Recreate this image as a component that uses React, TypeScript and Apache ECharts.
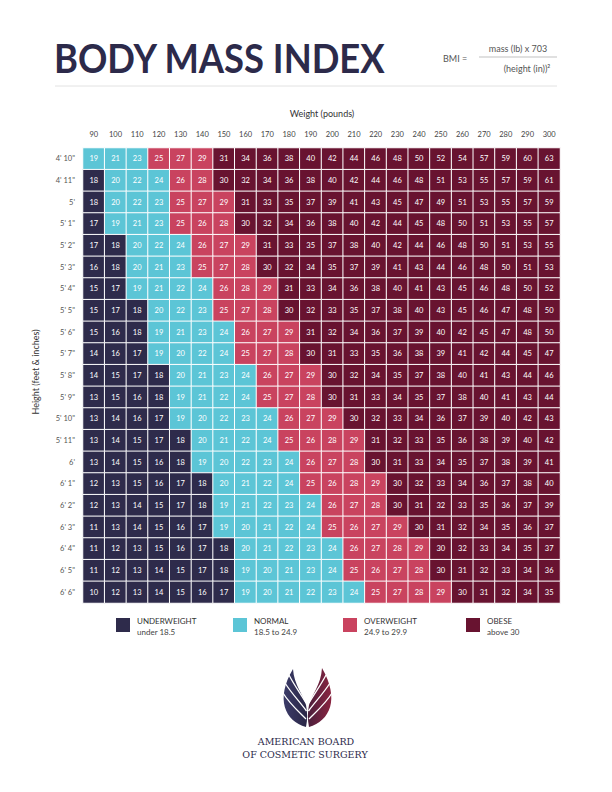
import React, { useEffect, useRef } from "react";
import * as echarts from "echarts";

const weights = [90, 100, 110, 120, 130, 140, 150, 160, 170, 180, 190, 200, 210, 220, 230, 240, 250, 260, 270, 280, 290, 300];
const heights = ["4' 10\"", "4' 11\"", "5'", "5' 1\"", "5' 2\"", "5' 3\"", "5' 4\"", "5' 5\"", "5' 6\"", "5' 7\"", "5' 8\"", "5' 9\"", "5' 10\"", "5' 11\"", "6'", "6' 1\"", "6' 2\"", "6' 3\"", "6' 4\"", "6' 5\"", "6' 6\""];

const bmi_4_10 = [19, 21, 23, 25, 27, 29, 31, 34, 36, 38, 40, 42, 44, 46, 48, 50, 52, 54, 57, 59, 60, 63];
const bmi_4_11 = [18, 20, 22, 24, 26, 28, 30, 32, 34, 36, 38, 40, 42, 44, 46, 48, 51, 53, 55, 57, 59, 61];
const bmi_5_0 = [18, 20, 22, 23, 25, 27, 29, 31, 33, 35, 37, 39, 41, 43, 45, 47, 49, 51, 53, 55, 57, 59];
const bmi_5_1 = [17, 19, 21, 23, 25, 26, 28, 30, 32, 34, 36, 38, 40, 42, 44, 45, 48, 50, 51, 53, 55, 57];
const bmi_5_2 = [17, 18, 20, 22, 24, 26, 27, 29, 31, 33, 35, 37, 38, 40, 42, 44, 46, 48, 50, 51, 53, 55];
const bmi_5_3 = [16, 18, 20, 21, 23, 25, 27, 28, 30, 32, 34, 35, 37, 39, 41, 43, 44, 46, 48, 50, 51, 53];
const bmi_5_4 = [15, 17, 19, 21, 22, 24, 26, 28, 29, 31, 33, 34, 36, 38, 40, 41, 43, 45, 46, 48, 50, 52];
const bmi_5_5 = [15, 17, 18, 20, 22, 23, 25, 27, 28, 30, 32, 33, 35, 37, 38, 40, 43, 45, 46, 47, 48, 50];
const bmi_5_6 = [15, 16, 18, 19, 21, 23, 24, 26, 27, 29, 31, 32, 34, 36, 37, 39, 40, 42, 45, 47, 48, 50];
const bmi_5_7 = [14, 16, 17, 19, 20, 22, 24, 25, 27, 28, 30, 31, 33, 35, 36, 38, 39, 41, 42, 44, 45, 47];
const bmi_5_8 = [14, 15, 17, 18, 20, 21, 23, 24, 26, 27, 29, 30, 32, 34, 35, 37, 38, 40, 41, 43, 44, 46];
const bmi_5_9 = [13, 15, 16, 18, 19, 21, 22, 24, 25, 27, 28, 30, 31, 33, 34, 35, 37, 38, 40, 41, 43, 44];
const bmi_5_10 = [13, 14, 16, 17, 19, 20, 22, 23, 24, 26, 27, 29, 30, 32, 33, 34, 36, 37, 39, 40, 42, 43];
const bmi_5_11 = [13, 14, 15, 17, 18, 20, 21, 22, 24, 25, 26, 28, 29, 31, 32, 33, 35, 36, 38, 39, 40, 42];
const bmi_6_0 = [13, 14, 15, 16, 18, 19, 20, 22, 23, 24, 26, 27, 28, 30, 31, 33, 34, 35, 37, 38, 39, 41];
const bmi_6_1 = [12, 13, 15, 16, 17, 18, 20, 21, 22, 24, 25, 26, 28, 29, 30, 32, 33, 34, 36, 37, 38, 40];
const bmi_6_2 = [12, 13, 14, 15, 17, 18, 19, 21, 22, 23, 24, 26, 27, 28, 30, 31, 32, 33, 35, 36, 37, 39];
const bmi_6_3 = [11, 13, 14, 15, 16, 17, 19, 20, 21, 22, 24, 25, 26, 27, 29, 30, 31, 32, 34, 35, 36, 37];
const bmi_6_4 = [11, 12, 13, 15, 16, 17, 18, 20, 21, 22, 23, 24, 26, 27, 28, 29, 30, 32, 33, 34, 35, 37];
const bmi_6_5 = [11, 12, 13, 14, 15, 17, 18, 19, 20, 21, 23, 24, 25, 26, 27, 28, 30, 31, 32, 33, 34, 36];
const bmi_6_6 = [10, 12, 13, 14, 15, 16, 17, 19, 20, 21, 22, 23, 24, 25, 27, 28, 29, 30, 31, 32, 34, 35];

const bmiRows = [bmi_4_10, bmi_4_11, bmi_5_0, bmi_5_1, bmi_5_2, bmi_5_3, bmi_5_4, bmi_5_5, bmi_5_6, bmi_5_7, bmi_5_8, bmi_5_9, bmi_5_10, bmi_5_11, bmi_6_0, bmi_6_1, bmi_6_2, bmi_6_3, bmi_6_4, bmi_6_5, bmi_6_6];

const categoryNames = ["UNDERWEIGHT", "NORMAL", "OVERWEIGHT", "OBESE"];
const categoryRanges = ["under 18.5", "18.5 to 24.9", "24.9 to 29.9", "above 30"];
const categoryColors = ["#2e2b4b", "#5cc5d6", "#c9435f", "#681330"];
const categoryThresholds = [18.5, 25, 30];

const FONT = "Lato, 'Open Sans', sans-serif";

const leftWing = "M26 61 C5 55 -5 33 13 3 C14 19 23 28 26 39 C27.5 46 27.5 54 26 61 Z";
const rightWing = "M29 61 C50 55 60 33 42 2 C41 19 32 28 29 39 C27.5 46 27.5 54 29 61 Z";
echarts.graphic.registerShape("abcsLeftWing", echarts.graphic.extendPath(leftWing, {}));
echarts.graphic.registerShape("abcsRightWing", echarts.graphic.extendPath(rightWing, {}));

export default function App() {
  const ref = useRef<HTMLDivElement>(null);
  useEffect(() => {
    if (!ref.current) return;
    const chart = echarts.init(ref.current, undefined, { renderer: "svg" });
    const data: number[][] = [];
    bmiRows.forEach((row, yi) => row.forEach((v, xi) => data.push([xi, yi, v])));

    const gridLeft = 83, gridTop = 148, gridW = 477, gridH = 455;

    const legendX = [116, 233, 343, 466];
    const legendGraphics: any[] = [];
    categoryNames.forEach((name, i) => {
      legendGraphics.push({ type: "rect", shape: { x: legendX[i], y: 618, width: 14, height: 14 }, style: { fill: categoryColors[i] } });
      legendGraphics.push({ type: "text", x: legendX[i] + 21, y: 621, style: { text: name, font: `8px ${FONT}`, fill: "#333", verticalAlign: "middle" } });
      legendGraphics.push({ type: "text", x: legendX[i] + 21, y: 632, style: { text: categoryRanges[i], font: `8px ${FONT}`, fill: "#444", verticalAlign: "middle" } });
    });

    const ox = 280, oy = 666;
    const stripe = (pts: number[][]) => ({
      type: "bezierCurve",
      shape: { x1: ox + pts[0][0], y1: oy + pts[0][1], cpx1: ox + pts[1][0], cpy1: oy + pts[1][1], cpx2: ox + pts[2][0], cpy2: oy + pts[2][1], x2: ox + pts[3][0], y2: oy + pts[3][1] },
      style: { stroke: "#fff", lineWidth: 1.3, fill: "none" },
    });

    chart.setOption({
      animation: false,
      backgroundColor: "#fff",
      grid: { left: gridLeft, top: gridTop, width: gridW, height: gridH },
      xAxis: {
        type: "category",
        data: weights.map(String),
        position: "top",
        axisLine: { show: false },
        axisTick: { show: false },
        axisLabel: { fontSize: 7.5, color: "#444", margin: 10, fontFamily: FONT, interval: 0 },
        splitArea: { show: false },
      },
      yAxis: {
        type: "category",
        data: heights,
        inverse: true,
        axisLine: { show: false },
        axisTick: { show: false },
        axisLabel: { fontSize: 7.5, color: "#555", margin: 8, fontFamily: FONT, interval: 0 },
      },
      visualMap: {
        show: false,
        type: "piecewise",
        dimension: 2,
        pieces: [
          { lt: categoryThresholds[0], color: categoryColors[0] },
          { gte: categoryThresholds[0], lt: categoryThresholds[1], color: categoryColors[1] },
          { gte: categoryThresholds[1], lt: categoryThresholds[2], color: categoryColors[2] },
          { gte: categoryThresholds[2], color: categoryColors[3] },
        ],
      },
      series: [
        {
          type: "heatmap",
          data,
          itemStyle: { borderColor: "#fff", borderWidth: 1 },
          label: { show: true, color: "#fff", fontSize: 7.5, fontFamily: FONT },
          emphasis: { disabled: true },
        },
      ],
      graphic: [
        { type: "text", x: 54, y: 57, scaleX: 0.91, style: { text: "BODY MASS INDEX", font: `bold 40px ${FONT}`, fill: "#2c2a4a", verticalAlign: "middle" } },
        { type: "text", x: 443, y: 58, style: { text: "BMI =", font: `9px ${FONT}`, fill: "#555", verticalAlign: "middle" } },
        { type: "text", x: 518, y: 48, style: { text: "mass (lb) x 703", font: `9px ${FONT}`, fill: "#555", align: "center", verticalAlign: "middle" } },
        { type: "line", shape: { x1: 479, y1: 57, x2: 557, y2: 57 }, style: { stroke: "#999", lineWidth: 0.6 } },
        { type: "text", x: 527, y: 68, style: { text: "(height (in))²", font: `9px ${FONT}`, fill: "#555", align: "center", verticalAlign: "middle" } },
        { type: "line", shape: { x1: 55, y1: 86, x2: 557, y2: 86 }, style: { stroke: "#e2e2e2", lineWidth: 1 } },
        { type: "text", x: 322, y: 113, style: { text: "Weight (pounds)", font: `9px ${FONT}`, fill: "#333", align: "center", verticalAlign: "middle" } },
        { type: "text", x: 35, y: 372, rotation: Math.PI / 2, style: { text: "Height (feet & inches)", font: `9px ${FONT}`, fill: "#333", align: "center", verticalAlign: "middle" } },
        ...legendGraphics,
        {
          type: "abcsLeftWing", x: ox, y: oy,
          style: { fill: new echarts.graphic.LinearGradient(0, 0, 1, 0, [{ offset: 0, color: "#3b3b68" }, { offset: 1, color: "#2a2746" }]) },
        },
        {
          type: "abcsRightWing", x: ox, y: oy,
          style: { fill: new echarts.graphic.LinearGradient(0, 0, 1, 0, [{ offset: 0, color: "#4a1f3c" }, { offset: 1, color: "#8a2440" }]) },
        },
        stripe([[3, 27], [9, 37], [18, 45], [26, 53]]),
        stripe([[5, 17], [12, 28], [20, 36], [26.5, 45]]),
        stripe([[9, 9], [14, 19], [21, 28], [26, 37]]),
        stripe([[52, 27], [46, 37], [37, 45], [29, 53]]),
        stripe([[50, 17], [43, 28], [35, 36], [28.5, 45]]),
        stripe([[46, 9], [41, 19], [34, 28], [29, 37]]),
        { type: "text", x: 306, y: 741, style: { text: "AMERICAN BOARD", font: `9.5px 'DejaVu Serif', 'Liberation Serif', serif`, fill: "#2c2a4a", align: "center", verticalAlign: "middle" } },
        { type: "text", x: 305, y: 754, style: { text: "OF COSMETIC SURGERY", font: `9.5px 'DejaVu Serif', 'Liberation Serif', serif`, fill: "#2c2a4a", align: "center", verticalAlign: "middle" } },
      ],
    });
    return () => chart.dispose();
  }, []);
  return <div ref={ref} style={{ position: "fixed", left: 0, top: 0, width: 612, height: 792 }} />;
}
